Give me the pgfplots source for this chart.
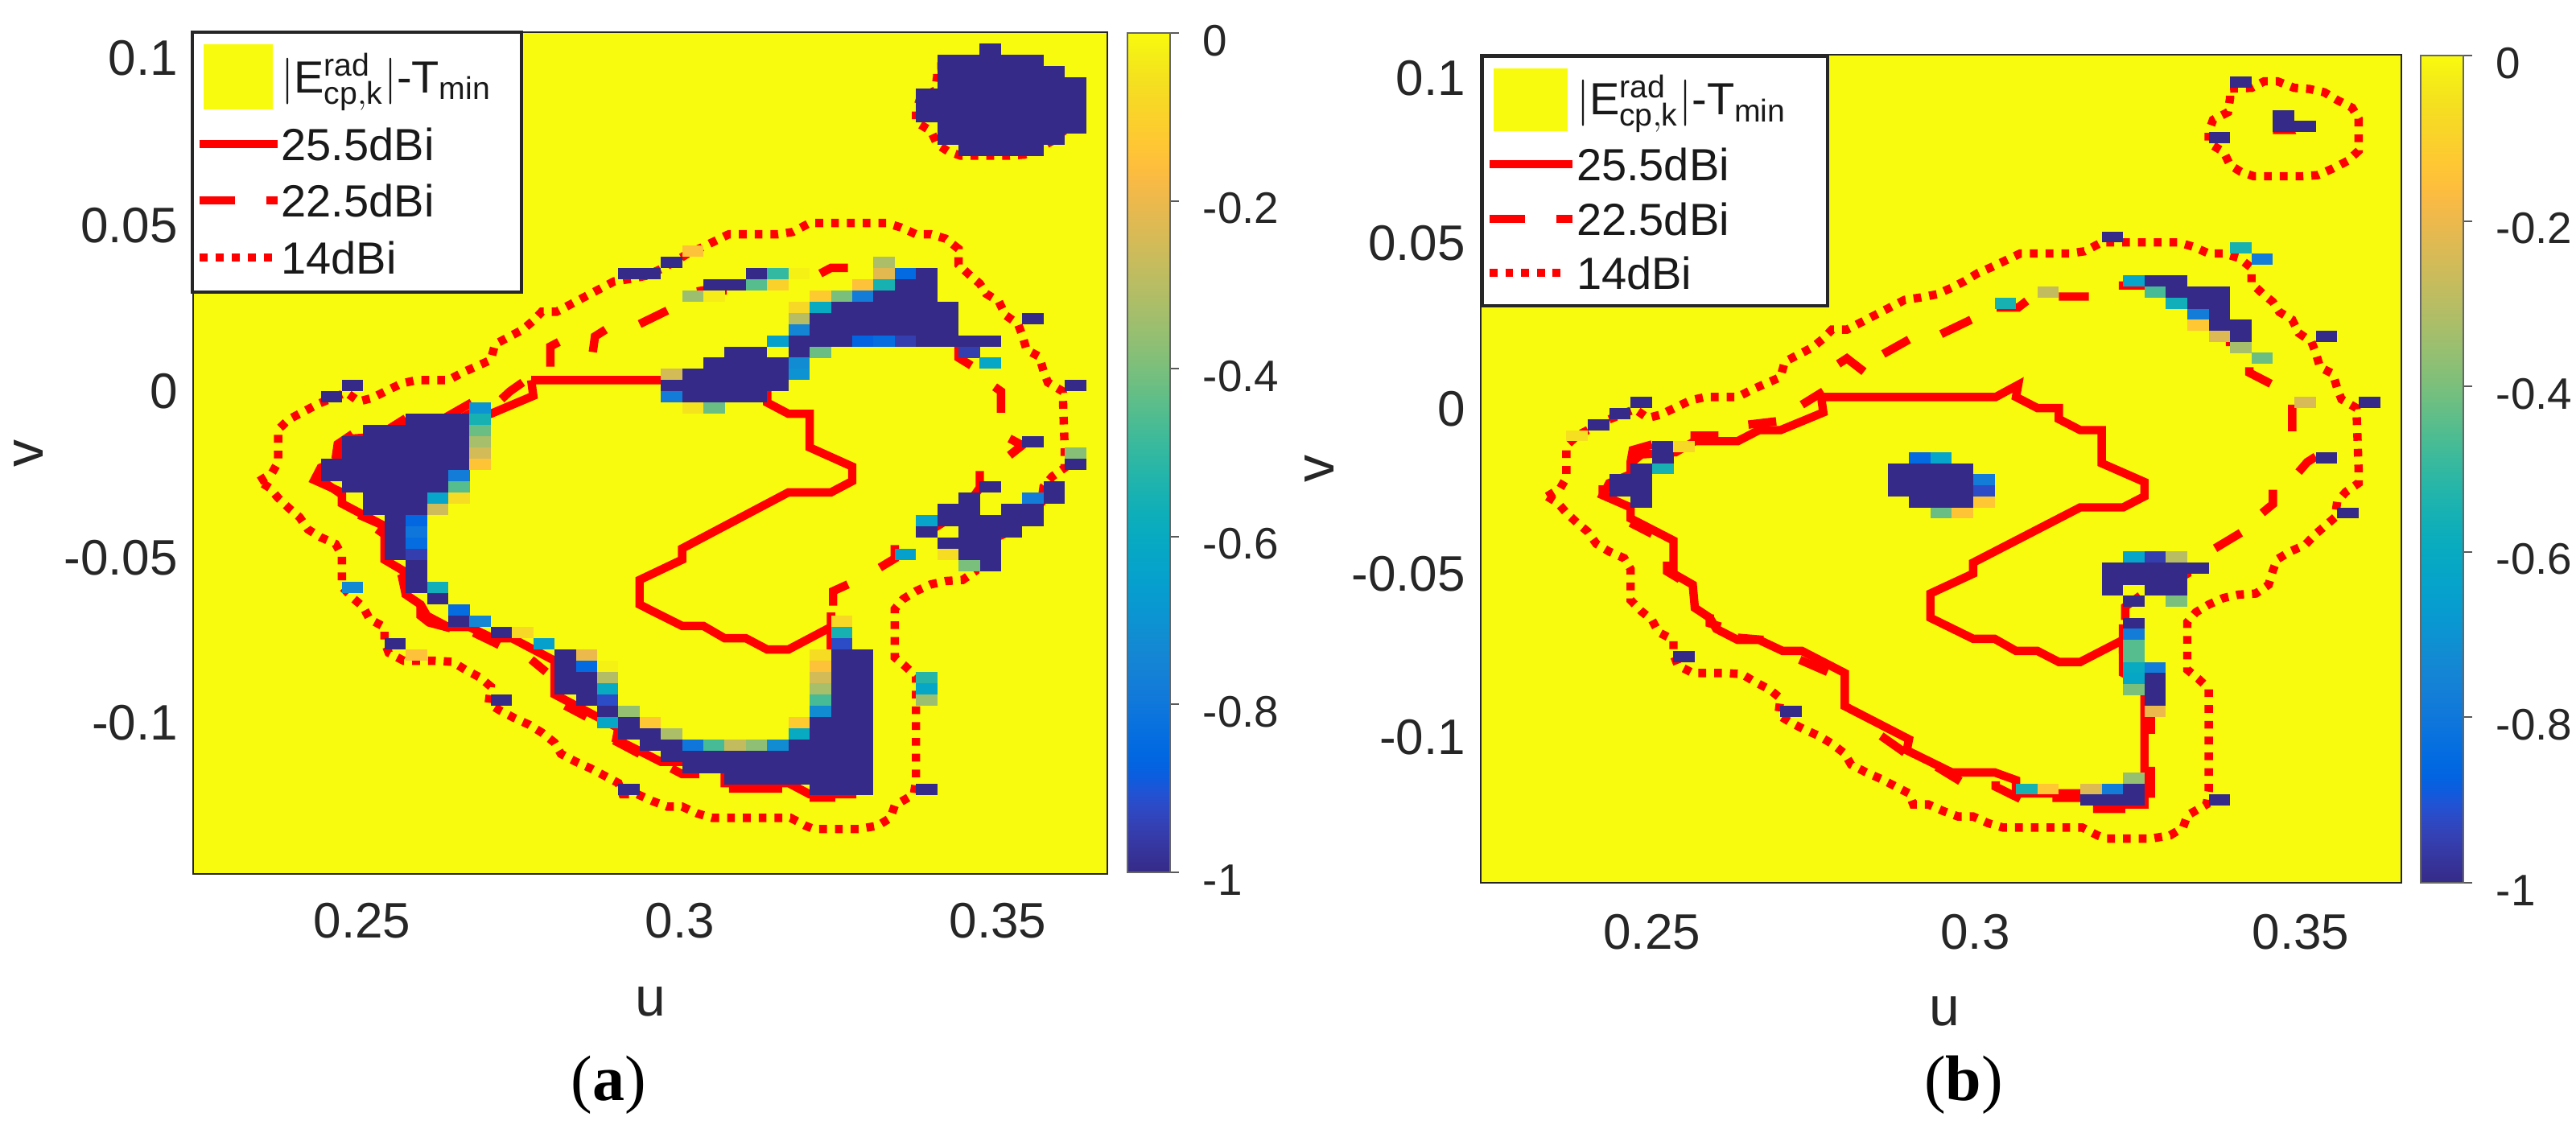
\documentclass[border=0pt]{standalone}
\usepackage{fontspec}
\setmainfont{Liberation Sans}
\newfontfamily\capfont{Liberation Serif}
\usepackage{pgfplots}
\usepackage{pgfplotstable}
\pgfplotsset{compat=1.18}
\definecolor{pyellow}{RGB}{249,251,14}
\definecolor{pnavy}{RGB}{53,42,135}
\definecolor{ink}{RGB}{38,38,38}
\pgfdeclareplotmark{cellA}{\pgfpathrectanglecorners{\pgfqpoint{0pt}{-3.5pt}}{\pgfqpoint{6.62pt}{0pt}}\pgfusepathqfill}
\pgfdeclareplotmark{cellB}{\pgfpathrectanglecorners{\pgfqpoint{0pt}{-3.44pt}}{\pgfqpoint{6.67pt}{0pt}}\pgfusepathqfill}
\pgfplotsset{
 colormap={parula}{rgb=(.2081,.1663,.5292) rgb=(.2116,.1898,.5777) rgb=(.2123,.2138,.6270) rgb=(.2081,.2386,.6771) rgb=(.1959,.2645,.7279) rgb=(.1707,.2919,.7792) rgb=(.1253,.3242,.8303) rgb=(.0591,.3598,.8683) rgb=(.0117,.3875,.8820) rgb=(.0060,.4086,.8828) rgb=(.0165,.4266,.8786) rgb=(.0329,.4430,.8720) rgb=(.0498,.4586,.8641) rgb=(.0629,.4737,.8554) rgb=(.0723,.4887,.8467) rgb=(.0779,.5040,.8384) rgb=(.0793,.5200,.8312) rgb=(.0749,.5375,.8263) rgb=(.0641,.5570,.8240) rgb=(.0488,.5772,.8228) rgb=(.0343,.5966,.8199) rgb=(.0265,.6137,.8135) rgb=(.0239,.6287,.8038) rgb=(.0231,.6418,.7913) rgb=(.0228,.6535,.7768) rgb=(.0267,.6642,.7607) rgb=(.0384,.6743,.7436) rgb=(.0590,.6838,.7254) rgb=(.0843,.6928,.7062) rgb=(.1133,.7015,.6859) rgb=(.1453,.7098,.6646) rgb=(.1801,.7177,.6424) rgb=(.2178,.7250,.6193) rgb=(.2586,.7317,.5954) rgb=(.3022,.7376,.5712) rgb=(.3482,.7424,.5473) rgb=(.3953,.7459,.5244) rgb=(.4420,.7481,.5033) rgb=(.4871,.7491,.4840) rgb=(.5300,.7491,.4661) rgb=(.5709,.7485,.4494) rgb=(.6099,.7473,.4337) rgb=(.6473,.7456,.4188) rgb=(.6834,.7435,.4044) rgb=(.7184,.7411,.3905) rgb=(.7525,.7384,.3768) rgb=(.7858,.7356,.3633) rgb=(.8185,.7327,.3498) rgb=(.8507,.7299,.3360) rgb=(.8824,.7274,.3217) rgb=(.9139,.7258,.3063) rgb=(.9450,.7261,.2886) rgb=(.9739,.7314,.2666) rgb=(.9938,.7455,.2403) rgb=(.9990,.7653,.2164) rgb=(.9955,.7861,.1967) rgb=(.9880,.8066,.1794) rgb=(.9789,.8271,.1633) rgb=(.9697,.8481,.1475) rgb=(.9626,.8705,.1309) rgb=(.9589,.8949,.1132) rgb=(.9598,.9218,.0948) rgb=(.9661,.9514,.0755) rgb=(.9763,.9831,.0538)},
 panel/.style={
  scale only axis, anchor=north west, y dir=reverse,
  xmin=0, xmax=43, ymin=0, ymax=75,
  axis background/.style={fill=pyellow},
  axis line style={draw=ink,line width=.6pt},
  major tick length=0pt, tick style={draw=none},
  axis on top, unbounded coords=jump,
  xticklabels={0.25,0.3,0.35},
  yticklabels={0.1,0.05,0,-0.05,-0.1},
  tick label style={font=\fontsize{15.5}{16}\selectfont,text=ink},
  y tick label style={xshift=-1.25pt},
  xlabel=u, ylabel=v,
  xlabel style={font=\fontsize{17}{17}\selectfont,text=ink,anchor=center},
  ylabel style={font=\fontsize{17}{17}\selectfont,text=ink,anchor=center},
  colormap name=parula, point meta min=-1, point meta max=0,
  colorbar,
 },
 barstyle/.style={
  scale only axis, y dir=normal,
  ytick={-1,-0.8,-0.6,-0.4,-0.2,0},
  yticklabels={-1,-0.8,-0.6,-0.4,-0.2,0},
  ytick pos=right, yticklabel pos=right,
  tick align=outside, major tick length=2.7pt,
  tick style={draw=black!65,line width=.5pt},
  axis line style={draw=black!60,line width=.7pt},
  yticklabel style={anchor=west,font=\fontsize{13.7}{14}\selectfont,text=ink,yshift=-2.3pt,xshift=4pt},
 },
 contS/.style={red,line width=2.6pt,solid,line join=miter,forget plot},
 contD/.style={red,line width=2.6pt,solid,line join=miter,forget plot},
 contO/.style={red,line width=2.6pt,dash pattern=on 2.4pt off 2.5pt,forget plot},
 navy/.style={only marks,mark options={fill=pnavy,draw=none},forget plot},
 mapped/.style={scatter,only marks,point meta=explicit,scatter/use mapped color={fill=mapped color,draw=none},forget plot},
}
% contours on the cell grid: c = column, r = row counted from the top
\pgfplotstableread[row sep=\\]{c r\\
15.9 31\\ 24.05 31\\ 25.1 29.9\\ 25 31\\ 26 32\\ 27 32\\ 27 33\\ 28 34\\ 29 34\\ 29 37\\ 31 38.7\\ 31 40\\ 30 41\\ 28 41\\ 23 46\\ 23 47\\ 21 48.8\\ 21 51\\ 23 52.9\\ 24 52.9\\ 25 54\\ 26 54\\ 27 55\\ 28 55\\ 30 53\\ 30 56\\ 31 57\\ 31 67.9\\ 29 67.9\\ 28 66.9\\ 25 66.9\\ 25 65.7\\ 24 65\\ 22 65\\ 19.9 63\\ 20 62\\ 17 59\\ 17 56\\ 15 54\\ 14.1 54\\ 13 53\\ 12 53\\ 11 52\\ 10.7 51\\ 10 50.1\\ 9.9 48\\ 9 47\\ 9 44\\ 7 42\\ 7 41\\ 5.7 39.9\\ 6 38.8\\ 7 38\\ 7 37\\ 7.5 36.2\\ 9.1 36\\ 10 35\\ 12 35\\ 13 34\\ 14 34\\ 16 32.4\\ 15.9 31\\
}\solidtab
\pgfplotstableread[row sep=\\]{c r\\
35 3.05\\ 36 3\\ 36.6 2.4\\ 37.2 2.4\\ 38 3\\ 38.7 3.1\\ 39.4 3.4\\ 40 4.1\\ 40.7 4.8\\ 41 5.8\\ 41 8.7\\ 40.5 9.6\\ 39.8 10.3\\ 39.1 10.9\\ 38.4 11\\ 36.1 11\\ 35.5 10.6\\ 35 10\\ 34.7 8.8\\ 34 8\\ 34 7\\ 34.2 5.9\\ 34.9 5.2\\ 35 3.9\\ 35 3.05\\ nan nan\\
3.1 40\\ 3.7 39.3\\ 4 38.3\\ 4 35.4\\ 4.5 34.5\\ 5.9 33.1\\ 7.2 32.1\\ 7.8 32.9\\ 8.4 32.6\\ 9.8 31.3\\ 10.5 31\\ 12 31\\ 12.7 30.3\\ 14 29.2\\ 14.2 27.8\\ 15.5 26.5\\ 16 25.7\\ 16.4 24.9\\ 17.1 24.9\\ 18.5 23.5\\ 19.8 22.2\\ 20.5 22\\ 21.3 21.7\\ 22 21.1\\ 22.6 20.5\\ 23.2 19.8\\ 23.9 19.2\\ 25.2 18\\ 27.5 18\\ 28.2 17.8\\ 29 17\\ 32.6 17\\ 33.3 17.4\\ 34 18\\ 34.7 18\\ 35.4 18.4\\ 36 19.3\\ 36 20.7\\ 36.5 21.6\\ 37 22.4\\ 37.3 23.3\\ 37.9 24\\ 38.2 25.2\\ 38.8 26\\ 39 27\\ 39.2 28.3\\ 39.8 28.9\\ 40 30.2\\ 40.2 31.2\\ 40.9 32\\ 41 37.5\\ 41 38.8\\ 40.4 39.6\\ 40 40.5\\ 39.9 41.9\\ 39 43.4\\ 38.5 44.4\\ 37.8 45\\ 37.2 45.7\\ 37 46.7\\ 36.8 48\\ 36.2 48.8\\ 35.4 48.9\\ 34.7 49.2\\ 34 49.8\\ 33.4 50.5\\ 33 51.4\\ 33 55.7\\ 33.5 56.5\\ 34 57.4\\ 34 66.7\\ 33.9 67.9\\ 33 68.9\\ 32.8 70\\ 32.2 70.7\\ 31.3 71\\ 29.2 71\\ 28.8 70.7\\ 28.1 70\\ 24.4 70\\ 23.7 69.6\\ 23 69\\ 22.3 69\\ 21.6 68.5\\ 20.9 67.9\\ 20.2 67.9\\ 20 66.9\\ 19.3 66.2\\ 18.7 65.6\\ 18 65\\ 17.3 64.3\\ 17 63.3\\ 16.4 62.4\\ 15.8 61.7\\ 15.1 61.1\\ 14.4 60.4\\ 13.9 59.8\\ 14 58.3\\ 13.5 57.5\\ 12.8 56.8\\ 12.2 56.1\\ 11.4 56\\ 9.9 56\\ 9.2 55.3\\ 9 54.3\\ 9 53\\ 8.3 52.3\\ 8 51.2\\ 7.5 50.4\\ 7 49.4\\ 7 46.6\\ 6.7 45.6\\ 6 45\\ 5.4 44.3\\ 5 43.2\\ 4.5 42.4\\ 4 41.5\\ 3.6 40.6\\ 3.1 40\\
}\dottab
\pgfplotstableread[row sep=\\]{c r\\
14.5 32.7\\ 14.9 32\\ 15.5 31.2\\ nan nan\\ 16.8 29.8\\ 16.8 28\\ 17.2 27.6\\ nan nan\\ 18.8 28.5\\ 18.9 27.1\\ 19.4 26.5\\ nan nan\\ 21 26\\ 22.3 24.8\\ nan nan\\ 23.7 23.1\\ 24 23\\ 25.1 23\\ nan nan\\ 26.5 22\\ 28 22\\ nan nan\\ 29.5 21.5\\ 30 21\\ 30.8 21\\ nan nan\\ 32.3 21.4\\ 33 22\\ 33.7 22\\ nan nan\\ 34.2 24.3\\ 35 25.1\\ 35 26\\ nan nan\\ 36 27.8\\ 36 29\\ 36.6 29.7\\ nan nan\\ 37.7 31.6\\ 38 32\\ 38 33.9\\ nan nan\\ 38.4 36.2\\ 39 36.8\\ 38.4 37.7\\ nan nan\\ 37 7.1\\ 37.7 7.1\\ 38 6.8\\ nan nan\\ 37 39.1\\ 37 40.6\\ 36.7 41.4\\ nan nan\\ 35.6 43.3\\ 34.5 44.6\\ nan nan\\ 33 45.7\\ 33 46.9\\ 32.3 47.7\\ nan nan\\ 30.8 49.2\\ 30.1 49.8\\ 30.1 51.1\\ nan nan\\ 30 51.7\\ 30 54.7\\ 30.4 55\\ 31.1 55.8\\ nan nan\\ 31.3 58.7\\ 31.3 61.4\\ nan nan\\ 31.3 64.4\\ 31.3 67.1\\ nan nan\\ 30.2 68.2\\ 29 68.2\\ nan nan\\ 27.7 67.4\\ 25.2 67.4\\ nan nan\\ 23.8 66.1\\ 23 66.1\\ 22.5 65.6\\ nan nan\\ 21 64.3\\ 19.8 63.1\\ nan nan\\ 18.5 61\\ 17.5 60\\ nan nan\\ 16.6 57\\ 15.9 55.9\\ nan nan\\ 14.4 54.6\\ 13.2 53.5\\ nan nan\\ 12.1 53.1\\ 11.1 52.6\\ 10.7 52\\ 10.7 51.1\\ nan nan\\ 10 50.1\\ 9.8 48.3\\ nan nan\\ 7.8 43\\ 9 44\\ 8.7 44.8\\ nan nan\\ 5.7 39.9\\ 6 39.9\\ 7 41.2\\ nan nan\\ 6.7 38\\ 6.8 36.7\\ 7.5 35.8\\ nan nan\\ 9 35.6\\ 10 34.4\\ nan nan\\ 11.9 34.3\\ 13.1 33\\
}\dashA
\pgfplotstableread[row sep=\\]{c r\\
15 31.7\\ 16 30.5\\ nan nan\\ 16.7 28\\ 17.1 27.5\\ 17.9 28.7\\ nan nan\\ 18.8 27.1\\ 20 25.8\\ nan nan\\ 21.5 25.3\\ 22.9 24\\ nan nan\\ 24.1 22.9\\ 25.1 22.9\\ 25.5 22.3\\ nan nan\\ 27 21.9\\ 28.4 21.9\\ nan nan\\ 29.8 20.9\\ 31.2 20.9\\ nan nan\\ 32.6 21.6\\ 33 21.9\\ 34 21.9\\ nan nan\\ 34.5 24.2\\ 35 25\\ 35 26.4\\ nan nan\\ 35.9 28.3\\ 35.9 28.8\\ 36.9 29.8\\ nan nan\\ 37.9 31.7\\ 37.9 34.1\\ nan nan\\ 39 36.4\\ 38.6 36.9\\ 38.2 37.8\\ nan nan\\ 37 6.8\\ 37.8 6.8\\ 37.7 6.3\\ nan nan\\ 37 39.4\\ 37 40.7\\ 36.5 41.5\\ nan nan\\ 35.5 43.3\\ 34.3 44.7\\ nan nan\\ 33 46.2\\ 33 47\\ 32.2 47.9\\ nan nan\\ 30.8 49\\ 30.1 50\\ 30.1 51.2\\ nan nan\\ 30 51.6\\ 30 54.1\\ 30.3 54.9\\ 31.1 55.9\\ nan nan\\ 31.3 58.8\\ 31.3 61.5\\ nan nan\\ 31.3 64.5\\ 31.3 67.3\\ nan nan\\ 30.1 68.3\\ 28.6 68.3\\ nan nan\\ 28 67.3\\ 26.7 67.3\\ nan nan\\ 25.2 67.4\\ 24.05 66.3\\ 24.05 65.8\\ nan nan\\ 22.4 65.8\\ 21.3 64.5\\ nan nan\\ 19.8 63.2\\ 18.7 61.7\\ nan nan\\ 16.2 55.9\\ 14.9 54.8\\ nan nan\\ 13.2 53\\ 12 52.8\\ nan nan\\ 11.2 51.8\\ 10.7 51.5\\ 10.7 50.7\\ nan nan\\ 8.7 45.9\\ 8.7 46.8\\ 9.3 47.5\\ nan nan\\ 8 43.4\\ 7 42.4\\ nan nan\\ 5.7 39\\ 5.7 39.8\\ 6.3 40.3\\ nan nan\\ 7 36.9\\ 7.1 35.8\\ 8 35.3\\ nan nan\\ 9.8 34.5\\ 11.1 34.5\\ nan nan\\ 12.5 33.5\\ 13.8 33.2\\
}\dashB
\begin{document}
\begin{tikzpicture}
\useasboundingbox (0pt,0pt) rectangle (800.25pt,-349.25pt);
% ---------- panel (a)
\begin{axis}[panel, at={(60pt,-10pt)}, width=284pt, height=261.5pt,
  xtick={7.95,22.9,37.85}, ytick={2.3,17.2,32,46.8,61.5},
  x tick label style={yshift=-5.5pt},
  xlabel style={at={(axis description cs:0.5,-0.152)}},
  ylabel style={at={(axis description cs:-0.18,0.5)}},
  colorbar style={barstyle, at={(1.022,0.999)}, anchor=north west, width=13.25pt, height=260.75pt},
  legend style={at={(-0.003,1.002)},anchor=north west,draw=ink,line width=1pt,fill=white,
    inner xsep=1pt,inner ysep=1.2pt,cells={anchor=west},
    nodes={inner sep=0pt,minimum height=17.6pt,text=black!90,font=\fontsize{14}{14}\selectfont},
    /tikz/every even column/.append style={column sep=1pt},row sep=0pt},
]
\addplot[navy,mark=cellA] coordinates {
(37,1) (35,2)(36,2)(37,2)(38,2)(39,2) (35,3)(36,3)(37,3)(38,3)(39,3)(40,3)
(35,4)(36,4)(37,4)(38,4)(39,4)(40,4)(41,4)
(34,5)(35,5)(36,5)(37,5)(38,5)(39,5)(40,5)(41,5)
(34,6)(35,6)(36,6)(37,6)(38,6)(39,6)(40,6)(41,6)
(34,7)(35,7)(36,7)(37,7)(38,7)(39,7)(40,7)(41,7)
(35,8)(36,8)(37,8)(38,8)(39,8)(40,8)(41,8)
(35,9)(36,9)(37,9)(38,9)(39,9)(40,9) (36,10)(37,10)(38,10)(39,10)
(22,20) (20,21)(21,21)(26,21)(34,21) (24,22)(25,22)(33,22)(34,22) (32,23)(33,23)(34,23)
(30,24)(31,24)(32,24)(33,24)(34,24)(35,24)
(29,25)(30,25)(31,25)(32,25)(33,25)(34,25)(35,25)(39,25)
(29,26)(30,26)(31,26)(32,26)(33,26)(34,26)(35,26)
(28,27)(29,27)(30,27)(34,27)(35,27)(36,27)(37,27)
(25,28)(26,28)(28,28) (24,29)(25,29)(26,29)(27,29)
(23,30)(24,30)(25,30)(26,30)(27,30)
(22,31)(23,31)(24,31)(25,31)(26,31)(27,31)(7,31)(41,31)
(23,32)(24,32)(25,32)(26,32)(6,32)
(10,34)(11,34)(12,34) (8,35)(9,35)(10,35)(11,35)(12,35)
(7,36)(8,36)(9,36)(10,36)(11,36)(12,36)(39,36)
(7,37)(8,37)(9,37)(10,37)(11,37)(12,37)
(6,38)(7,38)(8,38)(9,38)(10,38)(11,38)(12,38)(41,38)
(6,39)(7,39)(8,39)(9,39)(10,39)(11,39)
(7,40)(8,40)(9,40)(10,40)(11,40)(37,40)(40,40)
(8,41)(9,41)(10,41)(36,41)(40,41)
(8,42)(9,42)(10,42)(35,42)(36,42)(38,42)(39,42)
(9,43)(35,43)(36,43)(37,43)(38,43)(39,43)
(9,44)(34,44)(36,44)(37,44)(38,44)
(9,45)(35,45)(36,45)(37,45) (9,46)(36,46)(37,46) (10,47)(37,47) (10,48) (10,49) (11,50) (12,52) (14,53) (9,54)
(17,55)(30,55)(31,55) (17,56)(30,56)(31,56) (17,57)(18,57)(30,57)(31,57) (17,58)(18,58)(30,58)(31,58)
(18,59)(14,59)(30,59)(31,59) (19,60)(30,60)(31,60) (20,61)(29,61)(30,61)(31,61)
(20,62)(21,62)(29,62)(30,62)(31,62) (21,63)(22,63)(28,63)(29,63)(30,63)(31,63)
(22,64)(23,64)(24,64)(25,64)(26,64)(27,64)(28,64)(29,64)(30,64)(31,64)
(23,65)(24,65)(25,65)(26,65)(27,65)(28,65)(29,65)(30,65)(31,65)
(25,66)(26,66)(27,66)(28,66)(29,66)(30,66)(31,66)
(20,67)(29,67)(30,67)(31,67)(34,67)
};
\addplot[mapped,mark=cellA] coordinates {
(23,19)[-.15] (32,20)[-.32] (27,21)[-.5] (28,21)[-.02] (32,21)[-.22] (33,21)[-.85]
(26,22)[-.45] (27,22)[-.1] (31,22)[-.15] (32,22)[-.55]
(23,23)[-.35] (24,23)[-.03] (29,23)[-.12] (30,23)[-.4] (31,23)[-.78]
(28,24)[-.08] (29,24)[-.6] (28,25)[-.3] (28,26)[-.75]
(27,27)[-.65] (31,27)[-.87] (32,27)[-.84] (33,27)[-.95]
(29,28)[-.42] (36,28)[-.95] (28,29)[-.72] (37,29)[-.62] (22,30)[-.25] (28,30)[-.7]
(22,32)[-.78] (23,33)[-.05] (24,33)[-.42] (13,33)[-.7]
(13,34)[-.55] (13,35)[-.42] (13,36)[-.33] (13,37)[-.25] (13,38)[-.14]
(12,39)[-.78] (12,40)[-.45] (11,41)[-.63] (12,41)[-.07] (11,42)[-.26]
(10,43)[-.86] (10,44)[-.8] (10,45)[-.84] (10,46)[-.95]
(7,49)[-.73] (11,49)[-.57] (12,51)[-.84] (13,52)[-.74] (15,53)[-.08] (16,54)[-.65]
(18,55)[-.2] (10,55)[-.15] (18,56)[-.85] (19,56)[-.02]
(19,57)[-.31] (19,58)[-.6] (19,59)[-.92] (20,60)[-.36] (19,61)[-.62] (21,61)[-.13] (22,62)[-.32]
(23,63)[-.8] (24,63)[-.47] (25,63)[-.28] (26,63)[-.37] (27,63)[-.72]
(28,61)[-.12] (28,62)[-.6] (30,52)[-.08] (30,53)[-.55] (30,54)[-.92]
(29,55)[-.07] (29,56)[-.15] (29,57)[-.25] (29,58)[-.33] (29,59)[-.47] (29,60)[-.72]
(41,37)[-.38] (34,43)[-.63] (33,46)[-.65] (35,46)[-.07] (36,47)[-.4] (39,41)[-.78]
(34,57)[-.52] (34,58)[-.62] (34,59)[-.35]
};
\addplot[contS] table[x=c,y=r] {\solidtab};
\addplot[contD] table[x=c,y=r] {\dashA};
\addplot[contO] table[x=c,y=r] {\dottab};
\addlegendimage{legend image code/.code={\fill[pyellow,draw=none] (1.25pt,-10.1pt) rectangle (22.75pt,10.1pt);\path[draw=none,fill=none] (0pt,12.6pt) -- (24.25pt,-12.9pt);}}
\addlegendentry{\rule[-2pt]{0pt}{4pt}\raisebox{-4.8pt}{\smash{$|\mathrm{E}^{\mathrm{rad}}_{\mathrm{cp,k}}|$-T$_{\mathrm{min}}$}}\hspace*{8.25pt}}
\addlegendimage{legend image code/.code={\draw[red,line width=2.5pt] (0pt,.8pt) -- (24.25pt,.8pt);}}
\addlegendentry{25.5dBi}
\addlegendimage{legend image code/.code={\draw[red,line width=2.5pt,dash pattern=on 11.2pt off 9.6pt] (0pt,.8pt) -- (24.25pt,.8pt);}}
\addlegendentry{22.5dBi}
\addlegendimage{legend image code/.code={\draw[red,line width=2.5pt,dash pattern=on 2.5pt off 2.5pt] (0pt,.8pt) -- (24.25pt,.8pt);}}
\addlegendentry{14dBi}
\end{axis}
% ---------- panel (b)
\begin{axis}[panel, at={(460pt,-17pt)}, width=286pt, height=257.25pt,
  xtick={8.0,23.1,38.3}, ytick={2.15,17.1,32.1,47,61.8},
  x tick label style={yshift=-6.3pt},
  xlabel style={at={(axis description cs:0.504,-0.155)}},
  ylabel style={at={(axis description cs:-0.175,0.5)}},
  colorbar style={barstyle, at={(1.021,0.999)}, anchor=north west, width=13.25pt, height=257pt},
  legend style={at={(0,1)},anchor=north west,draw=ink,line width=1pt,fill=white,
    inner xsep=1pt,inner ysep=1pt,cells={anchor=west},
    nodes={inner sep=0pt,minimum height=16.9pt,text=black!90,font=\fontsize{14}{14}\selectfont},
    row sep=0pt},
]
\addplot[navy,mark=cellB] coordinates {
(35,2) (37,5) (37,6)(38,6) (34,7) (29,16) (31,20)(32,20) (32,21)(33,21)(34,21) (33,22)(34,22) (34,23)
(34,24)(35,24) (35,25)(39,25) (7,31)(41,31) (6,32) (5,33) (8,35) (8,36)(39,36)
(7,37)(19,37)(20,37)(21,37)(22,37) (6,38)(7,38)(19,38)(20,38)(21,38)(22,38)
(6,39)(7,39)(19,39)(20,39)(21,39)(22,39) (7,40)(20,40)(21,40)(22,40) (40,41)
(29,46)(30,46)(31,46)(32,46)(33,46) (29,47)(30,47)(31,47)(32,47) (29,48)(31,48)(32,48) (30,49) (30,51)
(9,54) (31,56) (31,57) (31,58) (14,59) (30,66) (28,67)(29,67)(30,67)(34,67)
};
\addplot[mapped,mark=cellB] coordinates {
(35,17)[-.55] (36,18)[-.78] (38,31)[-.24]
(30,20)[-.63] (31,21)[-.47] (26,21)[-.28] (24,22)[-.55] (32,22)[-.57]
(33,23)[-.78] (33,24)[-.13] (34,25)[-.23] (35,26)[-.33] (36,27)[-.42]
(4,34)[-.06] (9,35)[-.08] (8,37)[-.55]
(20,36)[-.85] (21,36)[-.63] (23,38)[-.78] (23,39)[-.92] (23,40)[-.13] (21,41)[-.42] (22,41)[-.14]
(30,45)[-.63] (31,45)[-.95] (32,45)[-.3] (32,49)[-.4]
(30,52)[-.78] (30,53)[-.45] (30,54)[-.45] (31,55)[-.78] (30,55)[-.6] (30,56)[-.62] (30,57)[-.4]
(31,59)[-.2] (30,65)[-.36] (25,66)[-.55] (26,66)[-.13] (28,66)[-.23] (29,66)[-.78]
};
\addplot[contS] table[x=c,y=r] {\solidtab};
\addplot[contD] table[x=c,y=r] {\dashB};
\addplot[contO] table[x=c,y=r] {\dottab};
\addlegendimage{legend image code/.code={\fill[pyellow,draw=none] (1.25pt,-9.75pt) rectangle (24.25pt,9.75pt);\path[draw=none,fill=none] (0pt,12.5pt) -- (25.75pt,-12.4pt);}}
\addlegendentry{\rule[-2pt]{0pt}{4pt}\raisebox{-4.4pt}{\smash{$|\mathrm{E}^{\mathrm{rad}}_{\mathrm{cp,k}}|$-T$_{\mathrm{min}}$}}\hspace*{11.5pt}}
\addlegendimage{legend image code/.code={\draw[red,line width=2.5pt] (0pt,.8pt) -- (25.75pt,.8pt);}}
\addlegendentry{25.5dBi}
\addlegendimage{legend image code/.code={\draw[red,line width=2.5pt,dash pattern=on 11pt off 9.8pt] (0pt,.8pt) -- (25.75pt,.8pt);}}
\addlegendentry{22.5dBi}
\addlegendimage{legend image code/.code={\draw[red,line width=2.5pt,dash pattern=on 2.45pt off 2.45pt] (0pt,.8pt) -- (23.2pt,.8pt);}}
\addlegendentry{14dBi}
\end{axis}
\node[font=\capfont\fontsize{20}{20}\selectfont] at (189pt,-337pt) {(\textbf{a})};
\node[font=\capfont\fontsize{20}{20}\selectfont] at (610pt,-337pt) {(\textbf{b})};
\end{tikzpicture}
\end{document}
